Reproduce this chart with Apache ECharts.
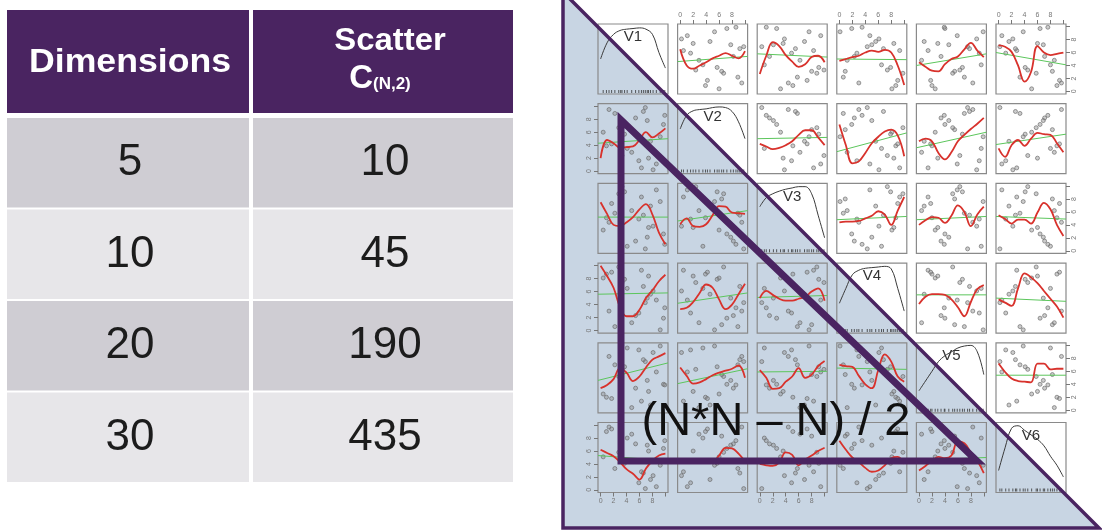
<!DOCTYPE html>
<html>
<head>
<meta charset="utf-8">
<script src="https://cdn.jsdelivr.net/npm/echarts@6/dist/echarts.min.js"></script>
<style>
html, body { margin: 0; padding: 0; background: #fff; }
#main { width: 1102px; height: 531px; }
</style>
</head>
<body>
<div id="main"></div>
<script>
// table values
var dimensions = [5, 10, 20, 30];
var scatterCount = [10, 45, 190, 435];

// scatter matrix: six variables, same observations in every panel
var varNames = ['V1', 'V2', 'V3', 'V4', 'V5', 'V6'];
var obs_v1 = [0.4, 2.2, 8.6, 4.1, 9.7, 6.3, 1.3, 7.7, 3.3, 5.4, 9.2, 0.9, 6.9, 2.8, 8.1, 4.8, 7.2, 3.7, 5.9, 1.7, 9.9, 6.6, 3.1, 7.4];
var obs_v2 = [6.0, 8.9, 1.1, 3.5, 7.2, 0.5, 9.5, 4.6, 2.4, 8.2, 5.3, 3.9, 9.8, 6.7, 0.2, 2.9, 7.8, 5.7, 1.6, 4.2, 8.6, 9.2, 6.4, 2.0];
var obs_v3 = [3.2, 5.8, 9.4, 0.7, 2.6, 8.3, 4.4, 6.9, 9.9, 1.5, 7.6, 5.1, 0.3, 8.8, 3.8, 6.2, 2.1, 9.1, 4.9, 7.3, 1.0, 5.5, 8.0, 3.6];
var obs_v4 = [8.1, 0.6, 4.7, 6.5, 1.9, 9.3, 3.0, 5.6, 7.4, 2.3, 0.1, 8.7, 4.3, 9.8, 6.1, 1.2, 5.0, 7.9, 2.7, 9.0, 3.5, 6.8, 0.9, 8.4];
var obs_v5 = [2.5, 7.0, 5.9, 9.6, 4.0, 1.4, 8.3, 0.8, 6.3, 3.4, 9.9, 2.0, 7.5, 5.2, 8.9, 0.4, 4.6, 6.7, 9.3, 1.8, 3.9, 7.8, 5.5, 2.9];
var obs_v6 = [5.1, 3.3, 0.5, 8.0, 6.4, 2.8, 9.7, 1.6, 4.5, 7.1, 3.8, 9.0, 0.2, 5.8, 2.2, 8.6, 6.9, 4.1, 1.1, 9.4, 7.6, 2.6, 8.3, 6.0];
var obsVars = [obs_v1, obs_v2, obs_v3, obs_v4, obs_v5, obs_v6];

// red smoother, read at x = 0..10, one row of panels per array
var smoothX = [0, 1, 2, 3, 4, 5, 6, 7, 8, 9, 10];
var smooth_r1 = [null,
  [6.5, 4.0, 3.5, 4.0, 4.5, 5.1, 5.5, 5.9, 5.5, 5.1, 6.2],
  [2.7, 5.5, 7.6, 7.0, 5.6, 4.6, 3.8, 4.2, 5.3, 5.5, 4.5],
  [4.7, 5.0, 5.3, 5.5, 6.0, 6.3, 6.1, 6.4, 6.0, 4.0, 1.0],
  [4.5, 3.8, 3.2, 3.1, 4.2, 5.0, 5.4, 6.5, 7.5, 6.3, 5.3],
  [7.1, 6.9, 6.1, 4.0, 1.5, 3.0, 7.0, 6.0, 5.6, 5.8, 6.0]];
var smooth_r2 = [
  [2.0, 4.8, 4.3, 3.6, 3.7, 3.8, 4.8, 6.0, 5.2, 5.8, 6.6], null,
  [4.2, 3.8, 3.4, 3.6, 4.0, 4.6, 5.6, 6.3, 6.3, 5.2, 4.0],
  [7.2, 4.0, 1.2, 1.5, 2.8, 4.3, 5.3, 6.1, 6.4, 5.5, 2.3],
  [4.6, 5.0, 4.6, 2.8, 1.8, 2.9, 4.6, 5.6, 6.5, 7.3, 8.2],
  [3.5, 2.2, 4.0, 4.8, 3.9, 5.0, 5.9, 5.7, 5.6, 4.3, 2.9]];
var smooth_r3 = [
  [7.5, 5.7, 4.0, 3.8, 4.4, 5.2, 6.4, 7.2, 5.6, 2.8, 1.0],
  [4.1, 5.0, 3.8, 3.7, 4.1, 5.5, 6.9, 6.8, 5.9, 5.8, 5.7], null,
  [4.4, 4.5, 4.5, 4.6, 5.0, 5.4, 6.1, 5.6, 4.0, 6.2, 8.3],
  [4.0, 4.7, 5.2, 5.1, 4.3, 5.4, 7.0, 6.0, 3.8, 5.6, 6.8],
  [5.5, 4.9, 4.2, 4.8, 4.8, 4.2, 5.9, 7.4, 6.4, 4.0, 2.3]];
var smooth_r4 = [
  [10.0, 8.4, 6.6, 3.6, 2.2, 2.2, 3.2, 5.0, 6.2, 7.6, 8.6],
  [3.3, 3.5, 4.4, 5.8, 7.1, 6.6, 4.8, 3.3, 4.0, 5.6, 7.2],
  [5.0, 6.1, 5.5, 4.9, 4.6, 4.6, 4.9, 5.2, 6.0, 6.5, 4.6], null,
  [4.1, 5.2, 5.6, 5.6, 5.5, 4.8, 3.6, 2.2, 4.4, 6.4, 7.0],
  [4.8, 4.3, 3.8, 6.5, 8.8, 8.2, 7.3, 6.1, 4.9, 3.7, 2.0]];
var smooth_r5 = [
  [3.4, 3.9, 4.8, 6.5, 5.8, 4.5, 5.2, 6.6, 7.8, 8.3, 8.8],
  [6.6, 5.3, 4.1, 4.3, 4.8, 5.4, 5.8, 6.1, 6.4, 6.9, 5.0],
  [6.2, 5.0, 3.3, 3.4, 4.4, 5.2, 6.5, 5.0, 5.5, 6.8, 7.6],
  [7.0, 6.8, 6.7, 5.3, 4.0, 3.4, 6.2, 8.6, 7.5, 5.2, 4.4], null,
  [7.2, 5.9, 4.9, 4.5, 4.4, 4.3, 7.2, 7.2, 6.3, 6.4, 6.4]];
var smooth_r6 = [
  [6.2, 5.7, 5.2, 4.3, 3.2, 2.5, 1.6, 3.3, 4.5, 5.3, 5.6],
  [4.4, 4.6, 4.7, 4.5, 4.2, 4.3, 5.3, 6.5, 6.4, 5.6, 4.4],
  [4.0, 3.8, 3.7, 4.2, 5.8, 5.4, 3.8, 4.7, 5.3, 6.0, 6.5],
  [7.6, 6.2, 5.0, 4.3, 3.4, 2.8, 3.0, 3.8, 4.9, 5.1, 4.0],
  [3.0, 3.7, 4.5, 5.1, 4.9, 5.3, 7.5, 7.2, 5.8, 4.5, 2.6], null];
var smoothRows = [smooth_r1, smooth_r2, smooth_r3, smooth_r4, smooth_r5, smooth_r6];

// green linear fit, value at left and right edge of each panel
var linearX = [-0.4, 10.4];
var linear_r1 = [null, [4.6, 5.4], [5.8, 5.3], [5.0, 4.9], [4.0, 5.8], [6.0, 4.1]];
var linear_r2 = [[4.3, 5.0], null, [5.0, 5.2], [3.0, 5.9], [3.6, 6.0], [4.1, 5.7]];
var linear_r3 = [[5.2, 5.2], [4.6, 6.2], null, [4.8, 5.3], [4.8, 5.3], [5.3, 4.9]];
var linear_r4 = [[5.6, 5.8], [4.2, 5.8], [5.1, 5.4], null, [5.5, 5.5], [5.0, 4.5]];
var linear_r5 = [[4.6, 7.3], [4.1, 6.4], [5.9, 6.0], [6.5, 6.3], null, [5.4, 5.4]];
var linear_r6 = [[5.3, 4.5], [4.8, 4.8], [4.5, 4.6], [4.8, 4.8], [4.6, 5.0], null];
var linearRows = [linear_r1, linear_r2, linear_r3, linear_r4, linear_r5, linear_r6];

// density curves on the diagonal, read at x = 0..10
var density_v1 = [5.0, 7.5, 8.8, 9.4, 9.6, 9.7, 9.8, 9.6, 8.8, 6.0, 3.6];
var density_v2 = [6.5, 8.6, 9.3, 9.5, 9.6, 9.8, 9.9, 9.8, 9.2, 7.6, 5.0];
var density_v3 = [6.8, 8.2, 8.8, 9.2, 9.5, 9.7, 9.9, 9.9, 8.8, 5.5, 2.0];
var density_v4 = [4.2, 6.5, 8.6, 9.3, 9.6, 9.7, 9.8, 9.9, 9.5, 6.5, 3.0];
var density_v5 = [3.0, 4.5, 6.0, 7.5, 8.4, 9.0, 9.6, 9.9, 10.0, 9.0, 5.5];
var density_v6 = [3.0, 6.5, 9.5, 9.9, 9.2, 8.5, 7.8, 6.8, 5.2, 3.8, 2.0];
var densities = [density_v1, density_v2, density_v3, density_v4, density_v5, density_v6];

var tickValues = [0, 2, 4, 6, 8, 10];
var tickLabels = [0, 2, 4, 6, 8];

var purple = '#4a2461';
var chart = echarts.init(document.getElementById('main'));

// ---- scatter matrix panels ----
var grids = [], xAxes = [], yAxes = [], series = [], graphics = [];
var panelLeft = 598, panelTop = 24, stepX = 79.6, stepY = 79.7, panelSize = 70;

for (var i = 0; i < 6; i++) {
  for (var j = 0; j < 6; j++) {
    var k = i * 6 + j;
    var L = panelLeft + j * stepX, T = panelTop + i * stepY;
    grids.push({
      left: L, top: T, width: panelSize, height: panelSize,
      show: true, backgroundColor: 'transparent',
      borderColor: '#8a8a8a', borderWidth: 1.2
    });
    var xTop = (i == 0 && j % 2 == 1), xBottom = (i == 5 && j % 2 == 0);
    var yRight = (j == 5 && i % 2 == 0), yLeft = (j == 0 && i % 2 == 1);
    xAxes.push({
      gridIndex: k, type: 'value', min: -0.4, max: 10.4,
      position: xTop ? 'top' : 'bottom',
      axisLine: { show: false, onZero: false },
      splitLine: { show: false },
      axisTick: { show: xTop || xBottom, length: 4, customValues: tickValues, lineStyle: { color: '#777' } },
      axisLabel: { show: xTop || xBottom, fontSize: 7, color: '#777', margin: 5, customValues: tickLabels }
    });
    yAxes.push({
      gridIndex: k, type: 'value', min: -0.4, max: 10.4,
      position: yRight ? 'right' : 'left',
      axisLine: { show: false, onZero: false },
      splitLine: { show: false },
      axisTick: { show: yRight || yLeft, length: 4, customValues: tickValues, lineStyle: { color: '#777' } },
      axisLabel: { show: yRight || yLeft, fontSize: 7, color: '#777', margin: 5, rotate: 90, customValues: tickLabels }
    });

    if (i == j) {
      series.push({
        type: 'line', xAxisIndex: k, yAxisIndex: k, smooth: 0.4, showSymbol: false,
        lineStyle: { color: '#3a3a3a', width: 1 },
        data: smoothX.map(function (x, n) { return [x, densities[i][n]]; })
      });
      series.push({
        type: 'scatter', xAxisIndex: k, yAxisIndex: k, symbol: 'rect', symbolSize: [1, 3],
        itemStyle: { color: '#333' },
        data: obsVars[i].map(function (v) { return [v, 0]; })
      });
      graphics.push({
        type: 'text', x: L + 35, y: T + 13, z: 10,
        style: { text: varNames[i], font: '15px "Liberation Sans"', fill: '#333', textAlign: 'center', textVerticalAlign: 'middle' }
      });
    } else {
      var xs = obsVars[j], ys = obsVars[i];
      series.push({
        type: 'scatter', xAxisIndex: k, yAxisIndex: k, symbolSize: 4,
        itemStyle: { color: 'rgba(140,140,140,0.55)', borderColor: '#666', borderWidth: 0.8 },
        data: xs.map(function (x, n) { return [x, ys[n]]; })
      });
      var lin = linearRows[i][j];
      series.push({
        type: 'line', xAxisIndex: k, yAxisIndex: k, showSymbol: false,
        lineStyle: { color: '#5cc65c', width: 1 },
        data: [[linearX[0], lin[0]], [linearX[1], lin[1]]]
      });
      var sm = smoothRows[i][j];
      series.push({
        type: 'line', xAxisIndex: k, yAxisIndex: k, smooth: 0.4, showSymbol: false,
        lineStyle: { color: '#d8322c', width: 1.8 },
        data: smoothX.map(function (x, n) { return [x, sm[n]]; })
      });
    }
  }
}

// ---- triangle overlay ----
graphics.push({
  type: 'polygon', z: -10, silent: true,
  shape: { points: [[563, -8], [563, 528], [1099, 528]] },
  style: { fill: '#c8d5e3' }
});
graphics.push({
  type: 'polygon', z: 100, silent: true,
  shape: { points: [[563, -8], [563, 528], [1099, 528]] },
  style: { fill: 'none', stroke: purple, lineWidth: 3.5 }
});
graphics.push({
  type: 'polygon', z: 100, silent: true,
  shape: { points: [[621, 120], [621, 461], [977, 461]] },
  style: { fill: 'none', stroke: purple, lineWidth: 7, lineJoin: 'miter' }
});
graphics.push({
  type: 'text', x: 776, y: 422, z: 101,
  style: { text: '(N*N \u2013 N) / 2', font: '47px "Liberation Sans"', fill: '#111', textAlign: 'center', textVerticalAlign: 'middle' }
});

// ---- table ----
var colX = [7, 253], colW = [242, 260], colMid = [130, 385];
graphics.push({ type: 'rect', shape: { x: colX[0], y: 10, width: colW[0], height: 103 }, style: { fill: purple } });
graphics.push({ type: 'rect', shape: { x: colX[1], y: 10, width: colW[1], height: 103 }, style: { fill: purple } });
graphics.push({
  type: 'text', x: 130, y: 63, scaleX: 1.08,
  style: { text: 'Dimensions', font: 'bold 33px "Liberation Sans"', fill: '#fff', textAlign: 'center', textVerticalAlign: 'middle' }
});
graphics.push({
  type: 'text', x: 390, y: 41, scaleX: 1.06,
  style: { text: 'Scatter', font: 'bold 31px "Liberation Sans"', fill: '#fff', textAlign: 'center', textVerticalAlign: 'middle' }
});
graphics.push({
  type: 'text', x: 373, y: 79,
  style: { text: 'C', font: 'bold 33px "Liberation Sans"', fill: '#fff', textAlign: 'right', textVerticalAlign: 'middle' }
});
graphics.push({
  type: 'text', x: 373, y: 84,
  style: { text: '(N,2)', font: 'bold 17px "Liberation Sans"', fill: '#fff', textAlign: 'left', textVerticalAlign: 'middle' }
});
for (var r = 0; r < dimensions.length; r++) {
  var rowTop = 118 + r * 91.5;
  var fill = r % 2 == 0 ? '#cfcdd3' : '#e7e6e9';
  graphics.push({ type: 'rect', shape: { x: colX[0], y: rowTop, width: colW[0], height: 89.5 }, style: { fill: fill } });
  graphics.push({ type: 'rect', shape: { x: colX[1], y: rowTop, width: colW[1], height: 89.5 }, style: { fill: fill } });
  graphics.push({
    type: 'text', x: colMid[0], y: rowTop + 45,
    style: { text: String(dimensions[r]), font: '44px "Liberation Sans"', fill: '#1c1c1c', textAlign: 'center', textVerticalAlign: 'middle' }
  });
  graphics.push({
    type: 'text', x: colMid[1], y: rowTop + 45,
    style: { text: String(scatterCount[r]), font: '44px "Liberation Sans"', fill: '#1c1c1c', textAlign: 'center', textVerticalAlign: 'middle' }
  });
}

chart.setOption({
  animation: false,
  grid: grids,
  xAxis: xAxes,
  yAxis: yAxes,
  series: series,
  graphic: { elements: graphics }
});
</script>
</body>
</html>
